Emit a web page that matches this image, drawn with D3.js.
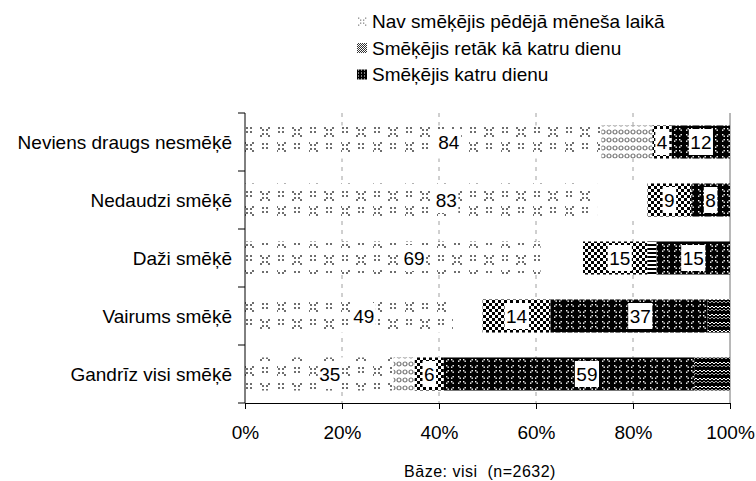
<!DOCTYPE html>
<html>
<head>
<meta charset="utf-8">
<script src="https://cdn.jsdelivr.net/npm/d3@7"></script>
<style>
  body { margin: 0; background: #fff; }
  svg { display: block; font-family: "Liberation Sans", Arial, sans-serif; }
</style>
</head>
<body>
<div id="chart"></div>
<script>
// chart data
const categories = ["Neviens draugs nesmēķē", "Nedaudzi smēķē", "Daži smēķē", "Vairums smēķē", "Gandrīz visi smēķē"];
const seriesNames = ["Nav smēķējis pēdējā mēneša laikā", "Smēķējis retāk kā katru dienu", "Smēķējis katru dienu"];
const notSmoked = [84, 83, 69, 49, 35];
const lessThanDaily = [4, 9, 15, 14, 6];
const daily = [12, 8, 15, 37, 59];
const xTicks = [0, 20, 40, 60, 80, 100];
const baseNote = "Bāze: visi  (n=2632)";

// size
const width = 756, height = 481;
const plot = {left: 245, right: 730, top: 113, bottom: 403};

// the original's fills stop at ~7/8 of a segment, the rest shows another texture
const tailFraction = 0.875;
const tailFills = [
    ["pLightWave", null, null],
    ["blank", null, null],
    ["blank", "pStripes", null],
    ["blank", null, "pDarkWave"],
    ["pLightWave", null, "pDarkWave"]
];
const mainFills = ["pLight", "pMedium", "pDark"];

const svg = d3.select("#chart")
    .append("svg")
    .attr("width", width)
    .attr("height", height);

// patterns
const defs = svg.append("defs");

function addPattern(id, w, h, bg) {
    const p = defs.append("pattern")
        .attr("id", id)
        .attr("patternUnits", "userSpaceOnUse")
        .attr("width", w)
        .attr("height", h);
    if (bg) p.append("rect").attr("width", w).attr("height", h).attr("fill", bg);
    return p;
}
function dot(p, x, y, c, s) {
    p.append("rect").attr("x", x).attr("y", y).attr("width", s || 2).attr("height", s || 2).attr("fill", c);
}
function colonMotif(p, cx, cy, c) {
    [[-3, -3], [1, -3], [-3, 1], [1, 1]].forEach(([dx, dy]) => dot(p, cx + dx, cy + dy, c));
}
function crossMotif(p, cx, cy, c) {
    [[-5, -5], [-3, -3], [1, 1], [3, 3], [3, -5], [1, -3], [-3, 1], [-5, 3]]
        .forEach(([dx, dy]) => dot(p, cx + dx, cy + dy, c));
}

const grey = "#6e6e6e";
const light = addPattern("pLight", 32, 32, "#fff").attr("x", 245).attr("y", 124);
colonMotif(light, 4, 6, grey);
crossMotif(light, 20, 8, grey);
crossMotif(light, 4, 23, grey);
colonMotif(light, 20, 22, grey);

const lightWave = addPattern("pLightWave", 6, 8, "#fff");
lightWave.append("circle").attr("cx", 3).attr("cy", 4).attr("r", 2)
    .attr("fill", "none").attr("stroke", "#777").attr("stroke-width", 1.2);

const medium = addPattern("pMedium", 6, 6, "#fff");
dot(medium, 0, 0, "#000", 3);
dot(medium, 3, 3, "#000", 3);

const stripes = addPattern("pStripes", 4, 4, "#fff");
stripes.append("rect").attr("width", 4).attr("height", 2).attr("fill", "#000");

const dark = addPattern("pDark", 12, 11, "#000");
[[2, 2], [3.5, 3.5], [8.5, 2], [7, 3.5], [2, 8.5], [3.5, 7], [8.5, 8.5], [7, 7]]
    .forEach(([x, y]) => dot(dark, x, y, "#fff", 1.4));

const darkWave = addPattern("pDarkWave", 4, 8, "#000");
darkWave.append("path").attr("d", "M0,2 L2,4 L4,2").attr("fill", "none").attr("stroke", "#fff").attr("stroke-width", 1);
darkWave.append("path").attr("d", "M0,5 L2,7 L4,5").attr("fill", "none").attr("stroke", "#ccc").attr("stroke-width", 0.8);

const legMedium = addPattern("pLegMedium", 2, 2, "#fff");
dot(legMedium, 0, 0, "#333", 1);
dot(legMedium, 1, 1, "#333", 1);
const legDark = addPattern("pLegDark", 3, 3, "#000");
dot(legDark, 1, 1, "#fff", 1);

// scales
const x = d3.scaleLinear().domain([0, 1]).range([plot.left, plot.right]);
const y = d3.scaleBand()
    .domain(categories)
    .range([plot.top, plot.bottom])
    .paddingInner(0.43)
    .paddingOuter(0.215);

const rows = categories.map((c, i) => ({category: c, s0: notSmoked[i], s1: lessThanDaily[i], s2: daily[i]}));
const stacked = d3.stack().keys(["s0", "s1", "s2"]).offset(d3.stackOffsetExpand)(rows);

// gridlines
const grid = svg.append("g");
xTicks.slice(1, -1).forEach(t => {
    grid.append("line")
        .attr("x1", x(t / 100)).attr("x2", x(t / 100))
        .attr("y1", plot.top).attr("y2", plot.bottom)
        .attr("stroke", "#a0a0a0").attr("stroke-dasharray", "4,5");
});
grid.append("line")
    .attr("x1", x(1)).attr("x2", x(1))
    .attr("y1", plot.top).attr("y2", plot.bottom)
    .attr("stroke", "#a0a0a0").attr("stroke-width", 1.5);

// bars
const bars = svg.append("g");
stacked.forEach((layer, si) => {
    layer.forEach((d, ri) => {
        const tail = tailFills[ri][si];
        const x0 = x(d[0]), x1 = x(d[1]);
        const xm = tail ? x(d[0] + (d[1] - d[0]) * tailFraction) : x1;
        bars.append("rect")
            .attr("x", x0).attr("y", y(d.data.category))
            .attr("width", xm - x0).attr("height", y.bandwidth())
            .attr("fill", `url(#${mainFills[si]})`);
        if (tail) {
            bars.append("rect")
                .attr("x", xm).attr("y", y(d.data.category))
                .attr("width", x1 - xm).attr("height", y.bandwidth())
                .attr("fill", tail === "blank" ? "#fff" : `url(#${tail})`);
        }
    });
});

// value labels
const labels = svg.append("g").attr("font-size", 19).attr("fill", "#000");
stacked.forEach(layer => {
    layer.forEach(d => {
        const cx = x((d[0] + d[1]) / 2);
        const cy = y(d.data.category) + y.bandwidth() / 2;
        const g = labels.append("g");
        const box = g.append("rect").attr("fill", "#fff");
        const t = g.append("text")
            .attr("x", cx).attr("y", cy).attr("dy", "0.35em")
            .attr("text-anchor", "middle")
            .text(d.data[layer.key]);
        const bb = t.node().getBBox();
        box.attr("x", bb.x - 1.5).attr("y", cy - 13).attr("width", bb.width + 3).attr("height", 26);
    });
});

// x axis
svg.append("g")
    .attr("transform", `translate(0,${plot.bottom})`)
    .call(d3.axisBottom(x)
        .tickValues(xTicks.map(t => t / 100))
        .tickFormat(d => Math.round(d * 100) + "%")
        .tickSize(6)
        .tickSizeOuter(0)
        .tickPadding(16.5))
    .call(g => g.selectAll("text").attr("font-size", 19).attr("font-family", null))
    .call(g => g.select(".domain").attr("stroke", "#000"));

// y axis
const yAxis = svg.append("g").attr("transform", `translate(${plot.left},0)`);
yAxis.append("line")
    .attr("y1", plot.top).attr("y2", plot.bottom)
    .attr("stroke", "#000");
d3.range(categories.length + 1).forEach(k => {
    const yy = plot.top + k * y.step();
    yAxis.append("line").attr("x1", -7).attr("x2", 0).attr("y1", yy).attr("y2", yy).attr("stroke", "#000");
});
yAxis.selectAll("text.cat")
    .data(categories)
    .join("text")
    .attr("class", "cat")
    .attr("x", -13)
    .attr("y", d => y(d) + y.bandwidth() / 2)
    .attr("dy", "0.35em")
    .attr("text-anchor", "end")
    .attr("font-size", 19)
    .text(d => d);

// legend
const legend = svg.append("g").attr("transform", "translate(357,0)");
const legendY = [21.5, 48, 74.5];
seriesNames.forEach((name, i) => {
    const item = legend.append("g").attr("transform", `translate(0,${legendY[i]})`);
    if (i === 0) {
        item.append("rect").attr("x", 0).attr("y", -5).attr("width", 10).attr("height", 10).attr("fill", "#fff");
        [[1, -4], [3, -2], [6, 1], [8, 3], [8, -4], [6, -2], [3, 1], [1, 3]]
            .forEach(([dx, dy]) => item.append("rect").attr("x", dx).attr("y", dy).attr("width", 1.3).attr("height", 1.3).attr("fill", "#888"));
    } else {
        item.append("rect").attr("x", 0).attr("y", -5).attr("width", 10).attr("height", 10)
            .attr("fill", i === 1 ? "url(#pLegMedium)" : "url(#pLegDark)");
    }
    item.append("text")
        .attr("x", 15)
        .attr("dy", "0.35em")
        .attr("font-size", 19)
        .text(name);
});

// base note
svg.append("text")
    .attr("x", 480)
    .attr("y", 477)
    .attr("text-anchor", "middle")
    .attr("font-size", 16)
    .attr("letter-spacing", 0.5)
    .style("white-space", "pre")
    .text(baseNote);
</script>
</body>
</html>
